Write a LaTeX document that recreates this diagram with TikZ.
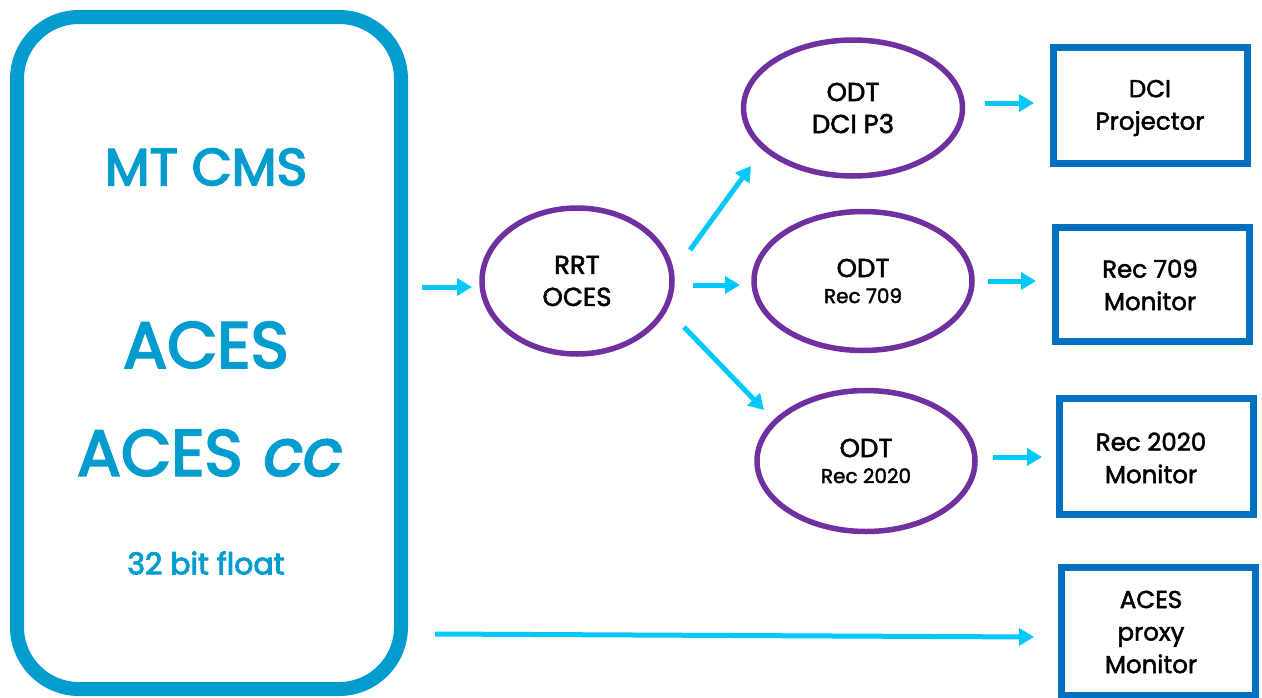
\documentclass[tikz,border=0pt]{standalone}
\usepackage{fontspec}
\setmainfont{Poppins}
\newfontfamily\medfont[FakeBold=2]{Poppins}
\newfontfamily\heavyfont[FakeBold=3.2]{Poppins}
\newfontfamily\heavyslant[FakeBold=3.2,FakeSlant=0.2]{Poppins}
\usetikzlibrary{shapes.geometric,arrows.meta}
\definecolor{leftblue}{RGB}{2,156,206}
\definecolor{arrowcyan}{RGB}{0,200,250}
\definecolor{odtpurple}{RGB}{112,48,160}
\definecolor{boxblue}{RGB}{0,112,192}
\begin{document}
\begin{tikzpicture}[x=1pt,y=-1pt,
  cmsbox/.style={draw=leftblue,line width=14pt,rounded corners=62pt,minimum width=384pt,minimum height=672pt,inner sep=0pt},
  cmstext/.style={text=leftblue,inner sep=0pt},
  odt/.style={draw=odtpurple,line width=5.5pt,ellipse,inner sep=0pt,align=center,text=black,font=\medfont\fontsize{26}{32}\selectfont},
  outbox/.style={draw=boxblue,line width=7pt,minimum width=194pt,inner sep=0pt},
  outtext/.style={align=center,text=black,inner sep=0pt,font=\medfont\fontsize{24.5}{32.5}\selectfont},
  arr/.style={draw=arrowcyan,line width=5pt,-{Triangle[length=15pt,width=17pt]}}
]
\useasboundingbox (0,0) rectangle (1262,697);
% left container
\node[cmsbox] (cms) at (209,353) {};
\node[cmstext,font=\heavyfont\fontsize{52}{52}\selectfont] (mt) at (206,167) {MT CMS};
\node[cmstext,font=\heavyfont\fontsize{65}{65}\selectfont] (aces1) at (206,345) {ACES};
\node[cmstext,font=\heavyfont\fontsize{65}{65}\selectfont] (aces2) at (208,453) {ACES {\heavyslant cc}};
\node[cmstext,font=\heavyfont\fontsize{30}{30}\selectfont] (bits) at (206,563) {32 bit float};
% ellipses
\node[odt,minimum width=190pt,minimum height=146pt] (rrt) at (577,281) {RRT\\OCES};
\node[odt,minimum width=219pt,minimum height=136pt] (p3) at (853,108) {ODT\\DCI P3};
\node[odt,minimum width=218pt,minimum height=139pt] (r709) at (863,281) {ODT\\[-6pt]{\fontsize{20}{20}\selectfont Rec 709}};
\node[odt,minimum width=218pt,minimum height=141pt] (r2020) at (866,461) {ODT\\[-6pt]{\fontsize{20}{20}\selectfont Rec 2020}};
% output boxes
\node[outbox,minimum height=116pt] (dci) at (1150,105) {};
\node[outtext] (dcit) at (1150,108) {DCI\\Projector};
\node[outbox,minimum height=114pt] (m709) at (1152,284) {};
\node[outtext] (m709t) at (1150,285) {Rec 709\\Monitor};
\node[outbox,minimum height=116pt] (m2020) at (1156,456) {};
\node[outtext] (m2020t) at (1151,458) {Rec 2020\\Monitor};
\node[outbox,minimum height=128pt] (proxy) at (1158,631) {};
\node[outtext] (proxyt) at (1151,632) {ACES\\proxy\\Monitor};
% arrow end points
\coordinate (a0s) at (422,287); \coordinate (a0e) at (472,287);
\coordinate (a1s) at (690,250); \coordinate (a1e) at (751,166);
\coordinate (a2s) at (693,285); \coordinate (a2e) at (740,285);
\coordinate (a3s) at (684,327); \coordinate (a3e) at (764,410);
\coordinate (b1s) at (985,103); \coordinate (b1e) at (1034,103);
\coordinate (b2s) at (988,281); \coordinate (b2e) at (1036,281);
\coordinate (b3s) at (993,457); \coordinate (b3e) at (1042,457);
\coordinate (b4s) at (435,634); \coordinate (b4e) at (1034,637);
\draw[arr] (a0s) -- (a0e);
\draw[arr] (a1s) -- (a1e);
\draw[arr] (a2s) -- (a2e);
\draw[arr] (a3s) -- (a3e);
\draw[arr] (b1s) -- (b1e);
\draw[arr] (b2s) -- (b2e);
\draw[arr] (b3s) -- (b3e);
\draw[arr] (b4s) -- (b4e);
\end{tikzpicture}
\end{document}
